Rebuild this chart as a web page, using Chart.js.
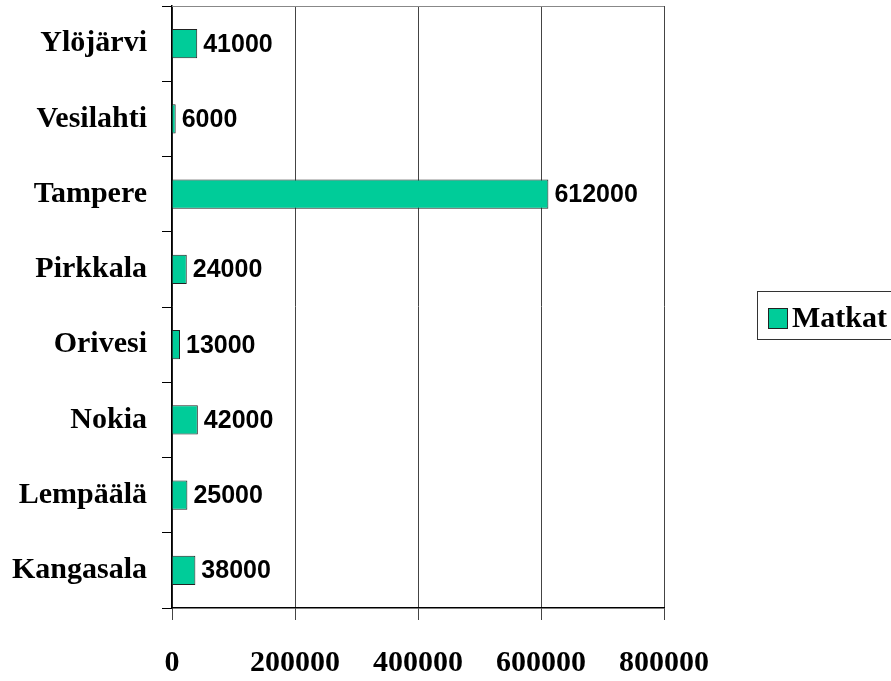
<!DOCTYPE html>
<html>
<head>
<meta charset="utf-8">
<script src="https://cdn.jsdelivr.net/npm/chart.js@4/dist/chart.umd.min.js"></script>
<style>
    body { margin: 0; background: #fff; }
    canvas { display: block; }
</style>
</head>
<body>
<canvas id="matkatChart" width="891" height="681"></canvas>
<script>
const kunnat = ['Ylöjärvi', 'Vesilahti', 'Tampere', 'Pirkkala', 'Orivesi', 'Nokia', 'Lempäälä', 'Kangasala'];
const matkat = [41000, 6000, 612000, 24000, 13000, 42000, 25000, 38000];
const seriesName = 'Matkat';
const xTicks = [0, 200000, 400000, 600000, 800000];

const barColor = '#00CC99';
const serif = '"Liberation Serif", "Times New Roman", serif';
const sans = '"Liberation Sans", Arial, sans-serif';

// value labels at the end of each bar
const valueLabels = {
    id: 'valueLabels',
    afterDatasetsDraw(chart) {
        const ctx = chart.ctx;
        const meta = chart.getDatasetMeta(0);
        ctx.save();
        ctx.font = 'bold 25px ' + sans;
        ctx.fillStyle = '#000';
        ctx.textAlign = 'left';
        ctx.textBaseline = 'middle';
        meta.data.forEach(function(bar, i) {
            ctx.fillText(String(matkat[i]), bar.x + 6, bar.y + 1);
        });
        ctx.restore();
    }
};

// top border of plot + legend box on the right
const frameAndLegend = {
    id: 'frameAndLegend',
    afterDraw(chart) {
        const ctx = chart.ctx;
        const a = chart.chartArea;
        ctx.save();
        ctx.strokeStyle = '#888';
        ctx.lineWidth = 1;
        ctx.beginPath();
        ctx.moveTo(a.left, a.top + 0.5);
        ctx.lineTo(a.right, a.top + 0.5);
        ctx.stroke();

        ctx.strokeStyle = '#333';
        ctx.strokeRect(757.5, 291.5, 200, 48);
        ctx.fillStyle = barColor;
        ctx.fillRect(768, 308, 20, 21);
        ctx.strokeStyle = '#222';
        ctx.strokeRect(768.5, 308.5, 19, 20);
        ctx.fillStyle = '#000';
        ctx.font = 'bold 30px ' + serif;
        ctx.textBaseline = 'middle';
        ctx.fillText(chart.data.datasets[0].label, 792, 319);
        ctx.restore();
    }
};

const ctx = document.getElementById('matkatChart').getContext('2d');
new Chart(ctx, {
    type: 'bar',
    data: {
        labels: kunnat,
        datasets: [{
            label: seriesName,
            data: matkat,
            backgroundColor: barColor,
            borderColor: '#222',
            borderWidth: 1,
            barPercentage: 0.39,
            categoryPercentage: 1
        }]
    },
    options: {
        indexAxis: 'y',
        responsive: false,
        animation: false,
        layout: { padding: { top: 6, right: 227, bottom: 0, left: 0 } },
        plugins: {
            legend: { display: false },
            tooltip: { enabled: false }
        },
        scales: {
            x: {
                min: 0,
                max: 800000,
                afterBuildTicks: function(scale) {
                    scale.ticks = xTicks.map(v => ({ value: v }));
                },
                afterFit: function(scale) {
                    scale.height = 73;
                    scale.paddingLeft = 0;
                    scale.paddingRight = 0;
                },
                grid: { color: '#444', tickColor: '#444', tickLength: 12 },
                border: { color: '#000', width: 1.5 },
                ticks: {
                    color: '#000',
                    padding: 25,
                    maxRotation: 0,
                    font: { family: serif, size: 30, weight: 'bold' },
                    callback: v => String(v)
                }
            },
            y: {
                afterFit: function(scale) {
                    scale.width = 172;
                    scale.paddingTop = 0;
                    scale.paddingBottom = 0;
                },
                grid: { drawOnChartArea: false, offset: true, tickLength: 10, color: '#000' },
                border: { color: '#000', width: 1.5 },
                ticks: {
                    color: '#000',
                    padding: 15,
                    font: { family: serif, size: 30, weight: 'bold' }
                }
            }
        }
    },
    plugins: [valueLabels, frameAndLegend]
});
</script>
</body>
</html>
